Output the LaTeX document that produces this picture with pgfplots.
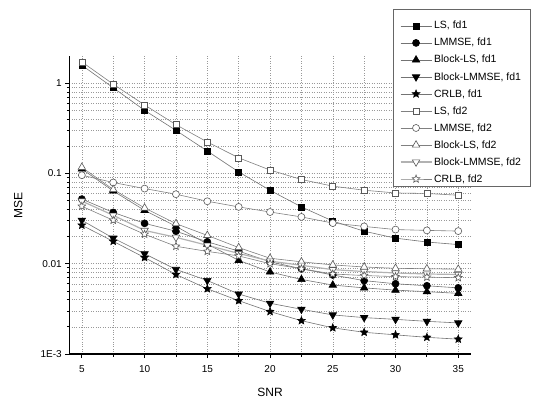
\documentclass[border=0pt]{standalone}
\usepackage{fontspec}
\setmainfont{Liberation Sans}
\usepackage{pgfplots}
\usepackage{pgfplotstable}
\pgfplotsset{compat=1.18}

\pgfdeclareplotmark{fivestar}{%
  \pgfpathmoveto{\pgfpointpolar{90}{\pgfplotmarksize}}%
  \pgfpathlineto{\pgfpointpolar{126}{0.45\pgfplotmarksize}}%
  \pgfpathlineto{\pgfpointpolar{162}{\pgfplotmarksize}}%
  \pgfpathlineto{\pgfpointpolar{198}{0.45\pgfplotmarksize}}%
  \pgfpathlineto{\pgfpointpolar{234}{\pgfplotmarksize}}%
  \pgfpathlineto{\pgfpointpolar{270}{0.45\pgfplotmarksize}}%
  \pgfpathlineto{\pgfpointpolar{306}{\pgfplotmarksize}}%
  \pgfpathlineto{\pgfpointpolar{342}{0.45\pgfplotmarksize}}%
  \pgfpathlineto{\pgfpointpolar{18}{\pgfplotmarksize}}%
  \pgfpathlineto{\pgfpointpolar{54}{0.45\pgfplotmarksize}}%
  \pgfpathclose
  \pgfusepathqfillstroke
}

\pgfplotstableread{
snr   ls      lmmse   bls     blmmse   crlb
5     1.58    0.052   0.112   0.0303   0.0267
7.5   0.89    0.037   0.064   0.0192   0.0177
10    0.50    0.028   0.039   0.0129   0.0117
12.5  0.30    0.0229  0.026   0.00865  0.0076
15    0.177   0.0175  0.0165  0.00652  0.00528
17.5  0.104   0.0138  0.0109  0.00462  0.0039
20    0.065   0.0105  0.0081  0.00365  0.00295
22.5  0.0426  0.0088  0.0067  0.00313  0.00234
25    0.0297  0.0075  0.0058  0.00271  0.00195
27.5  0.0229  0.0065  0.0054  0.00253  0.00174
30    0.0192  0.0060  0.0051  0.00242  0.00163
32.5  0.0174  0.0057  0.0049  0.00230  0.00153
35    0.0163  0.0054  0.0047  0.00221  0.00146
}\fdone

\pgfplotstableread{
snr   ls      lmmse   bls     blmmse   crlb
5     1.72    0.0956  0.117   0.0494   0.0433
7.5   0.975   0.0794  0.0664  0.0344   0.0303
10    0.574   0.068   0.0415  0.0234   0.0212
12.5  0.347   0.0589  0.0278  0.0196   0.0156
15    0.223   0.0492  0.0206  0.0160   0.0137
17.5  0.149   0.0426  0.0151  0.0130   0.0122
20    0.109   0.0374  0.0115  0.0107   0.0100
22.5  0.0857  0.0330  0.0105  0.0096   0.0088
25    0.0723  0.0282  0.0097  0.0086   0.0077
27.5  0.0652  0.0259  0.0092  0.0082   0.0074
30    0.0608  0.0239  0.0089  0.0079   0.0072
32.5  0.0600  0.0234  0.0088  0.0077   0.0071
35    0.0574  0.0230  0.0087  0.0076   0.0070
}\fdtwo

\begin{document}
\begin{tikzpicture}
\begin{axis}[
  at={(0pt,0pt)}, anchor=south west,
  scale only axis, width=401.5pt, height=298pt,
  xmin=4, xmax=36,
  ymode=log, ymin=1e-3, ymax=2,
  axis lines=left,
  axis line style={-, line width=1.2pt, black},
  xtick={5,10,...,35},
  minor xtick={7.5,12.5,...,32.5},
  ytick={0.001,0.01,0.1,1},
  yticklabels={1E-3,0.01,0.1,1},
  tick align=outside,
  major tick length=4pt,
  minor tick length=2.5pt,
  tick style={black, line width=0.8pt},
  grid=both,
  major grid style={dotted, black!40, line width=0.5pt},
  minor grid style={dotted, black!40, line width=0.5pt},
  /pgf/number format/assume math mode=true,
  tick label style={font=\fontsize{10}{12}\selectfont},
  xticklabel style={yshift=-4pt},
  xlabel={SNR}, ylabel={MSE},
  label style={font=\fontsize{12}{14}\selectfont},
  xlabel style={at={(axis description cs:0.5,-0.1275)}, anchor=center},
  ylabel style={at={(axis description cs:-0.127,0.5)}, anchor=center},
  legend cell align=left,
  legend style={at={(axis description cs:0.8062,1.157)}, anchor=north west,
    draw=black!60, line width=0.5pt, fill=white,
    font=\fontsize{10.5}{12}\selectfont,
    inner xsep=6.7pt, inner ysep=0.5pt, row sep=3.9pt, column sep=0pt,
    nodes={inner xsep=2pt, inner ysep=2pt}},
  legend image code/.code={\draw[mark repeat=2,mark phase=2] plot coordinates {(0pt,0pt) (15.5pt,0pt) (31pt,0pt)};},
]
\addlegendimage{empty legend}
\addlegendentry{}
% fd1
\addplot[color=black!55, line width=0.6pt, mark=square*, mark size=3pt, mark options={fill=black, draw=black}] table[x=snr,y=ls] {\fdone};
\addlegendentry{LS, fd1}
\addplot[color=black!55, line width=0.6pt, mark=*, mark size=3.5pt, mark options={fill=black, draw=black}] table[x=snr,y=lmmse] {\fdone};
\addlegendentry{LMMSE, fd1}
\addplot[color=black!55, line width=0.6pt, mark=triangle*, mark size=4.3pt, mark options={fill=black, draw=black}] table[x=snr,y=bls] {\fdone};
\addlegendentry{Block-LS, fd1}
\addplot[color=black!55, line width=0.6pt, mark=triangle*, mark size=4.3pt, mark options={fill=black, draw=black, rotate=180}] table[x=snr,y=blmmse] {\fdone};
\addlegendentry{Block-LMMSE, fd1}
\addplot[color=black!55, line width=0.6pt, mark=fivestar, mark size=4pt, mark options={fill=black, draw=black}] table[x=snr,y=crlb] {\fdone};
\addlegendentry{CRLB, fd1}
% fd2
\addplot[color=black!50, line width=0.6pt, mark=square*, mark size=3pt, mark options={fill=white, draw=black!65}] table[x=snr,y=ls] {\fdtwo};
\addlegendentry{LS, fd2}
\addplot[color=black!50, line width=0.6pt, mark=*, mark size=3.5pt, mark options={fill=white, draw=black!65}] table[x=snr,y=lmmse] {\fdtwo};
\addlegendentry{LMMSE, fd2}
\addplot[color=black!50, line width=0.6pt, mark=triangle*, mark size=4.3pt, mark options={fill=white, draw=black!65}] table[x=snr,y=bls] {\fdtwo};
\addlegendentry{Block-LS, fd2}
\addplot[color=black!30, line width=1.2pt, mark=triangle*, mark size=4.3pt, mark options={fill=white, draw=black!65, line width=0.6pt, rotate=180}] table[x=snr,y=blmmse] {\fdtwo};
\addlegendentry{Block-LMMSE, fd2}
\addplot[color=black!50, line width=0.6pt, mark=fivestar, mark size=4pt, mark options={fill=white, draw=black!65}] table[x=snr,y=crlb] {\fdtwo};
\addlegendentry{CRLB, fd2}
\end{axis}
\pgfresetboundingbox
\path (-69.3pt,-44pt) rectangle (467.7pt,354pt);
\end{tikzpicture}
\end{document}
